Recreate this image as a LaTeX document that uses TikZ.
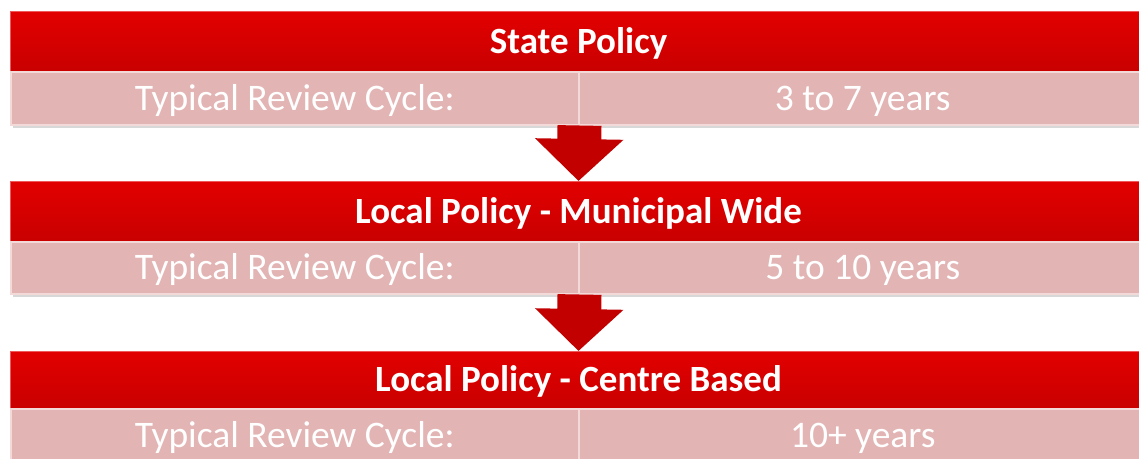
\documentclass[tikz,border=0pt]{standalone}
\usepackage{fontspec}
\setmainfont{Carlito}
\usetikzlibrary{arrows.meta,shadows}

\definecolor{hdrtop}{HTML}{E20000}
\definecolor{hdrbot}{HTML}{C90000}
\definecolor{hdrline}{HTML}{EE5A5A}
\definecolor{bandfill}{HTML}{E3B4B4}
\definecolor{bandline}{HTML}{F4D9D9}
\definecolor{arrowred}{HTML}{C20000}

\tikzset{
  hdr/.style={rectangle, inner sep=0pt, minimum width=1136pt,
    top color=hdrtop, bottom color=hdrbot, draw=hdrline, line width=1pt,
    text=white, font=\fontsize{37}{44}\selectfont\bfseries,
    text height=23pt, text depth=0pt,
    drop shadow={shadow xshift=2pt, shadow yshift=-3pt, opacity=.3}},
  band/.style={rectangle, inner sep=0pt, minimum width=568pt,
    fill=bandfill, draw=bandline, line width=1.5pt,
    text=white, font=\fontsize{37.5}{44}\selectfont,
    text height=24pt, text depth=0pt,
    drop shadow={shadow xshift=2pt, shadow yshift=-3pt, opacity=.3}},
  flowarrow/.style={draw=arrowred, line width=44pt,
    -{Triangle[width=86pt,length=42pt]}}
}

\begin{document}
\begin{tikzpicture}[x=1pt, y=-1pt]
    \useasboundingbox[fill=white] (0,0) rectangle (1139,458);

    % state level
    \node[hdr, minimum height=60pt, anchor=north west] (stateHdr) at (10,11) {State Policy};
    \node[band, minimum height=53pt, anchor=north west] (stateLab) at (10,71) {Typical Review Cycle:};
    \node[band, minimum height=53pt, anchor=north west] (stateVal) at (578,71) {3 to 7 years};

    % municipal level
    \node[hdr, minimum height=60pt, anchor=north west] (muniHdr) at (10,181) {Local Policy - Municipal Wide};
    \node[band, minimum height=52pt, anchor=north west] (muniLab) at (10,241) {Typical Review Cycle:};
    \node[band, minimum height=52pt, anchor=north west] (muniVal) at (578,241) {5 to 10 years};

    % centre level
    \node[hdr, minimum height=57pt, anchor=north west] (centreHdr) at (10,351) {Local Policy - Centre Based};
    \node[band, minimum height=53pt, anchor=north west] (centreLab) at (10,408) {Typical Review Cycle:};
    \node[band, minimum height=53pt, anchor=north west] (centreVal) at (578,408) {10+ years};

    \draw[flowarrow] (stateLab.south east) -- (muniHdr.north);
    \draw[flowarrow] (muniLab.south east) -- (centreHdr.north);
\end{tikzpicture}
\end{document}
